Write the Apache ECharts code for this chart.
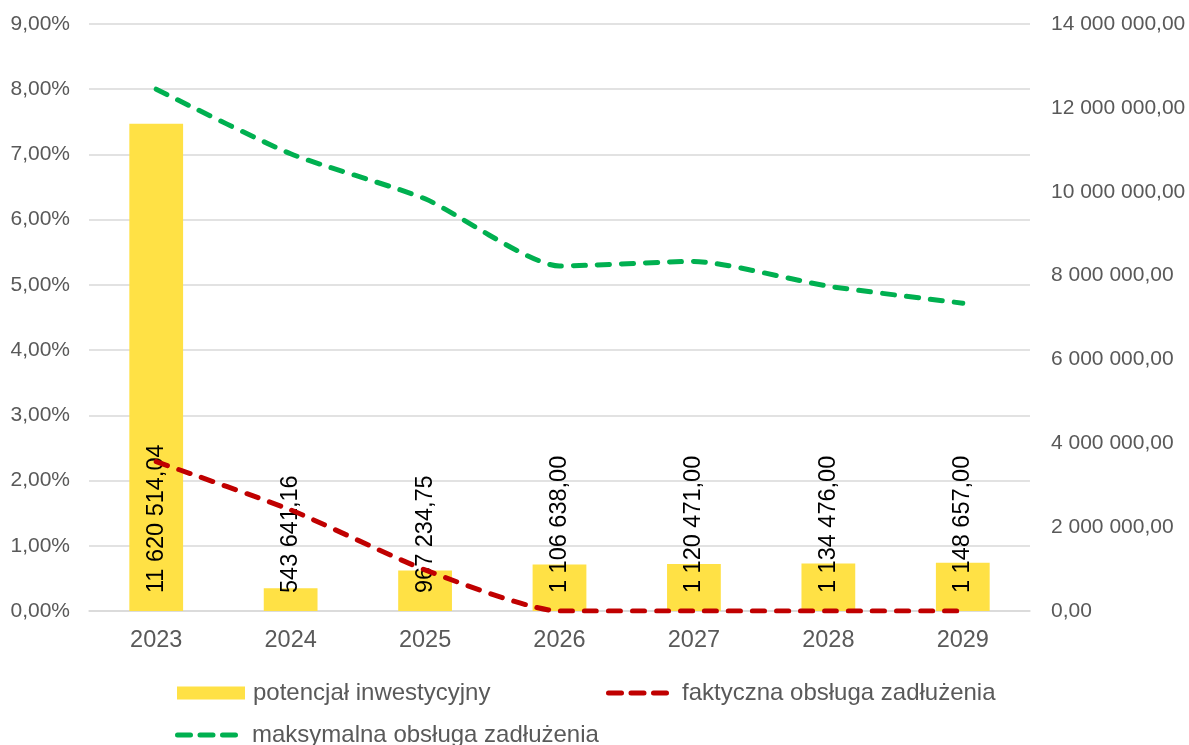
<!DOCTYPE html>
<html>
<head>
<meta charset="utf-8">
<script src="https://cdn.jsdelivr.net/npm/echarts@6/dist/echarts.min.js"></script>
<style>
html,body{margin:0;padding:0;background:#fff;}
#c{width:1189px;height:745px;}
</style>
</head>
<body>
<div id="c"></div>
<script>
const categories = ['2023','2024','2025','2026','2027','2028','2029'];
const potencjal = [11620514.04, 543641.16, 967234.75, 1106638.00, 1120471.00, 1134476.00, 1148657.00];
const faktyczna = [2.29, 1.55, 0.63, 0.0, 0.0, 0.0, 0.0];
const maksymalna = [8.0, 7.01, 6.32, 5.29, 5.36, 4.98, 4.72];
const names = ['potencjał inwestycyjny', 'faktyczna obsługa zadłużenia', 'maksymalna obsługa zadłużenia'];

function fmtMoney(v) {
  const parts = Number(v).toFixed(2).split('.');
  const intPart = parts[0].replace(/\B(?=(\d{3})+(?!\d))/g, ' ');
  return intPart + ',' + parts[1];
}
function fmtPct(v) {
  return Number(v).toFixed(2).replace('.', ',') + '%';
}

const FONT = '"Liberation Sans", Arial, sans-serif';
const GRAY = '#595959';
const DASH_ICON = 'path://M2.5,0h13a2.5,2.5 0 0 1 0,5h-13a2.5,2.5 0 0 1 0,-5z' +
  'M25,0h13a2.5,2.5 0 0 1 0,5h-13a2.5,2.5 0 0 1 0,-5z' +
  'M47.5,0h13a2.5,2.5 0 0 1 0,5h-13a2.5,2.5 0 0 1 0,-5z';

function lt(pad) {
  return {color: GRAY, fontSize: 24, fontFamily: FONT, padding: [0, 0, 0, pad]};
}

const chart = echarts.init(document.getElementById('c'), null, {renderer: 'canvas'});
chart.setOption({
  animation: false,
  backgroundColor: '#ffffff',
  textStyle: {fontFamily: FONT},
  grid: {left: 89, right: 159, top: 24, bottom: 134, containLabel: false},
  legend: [
    {data: [names[0]], left: 177, top: 681, padding: 0, itemWidth: 68, itemHeight: 13, textStyle: lt(3), icon: 'rect', selectedMode: false},
    {data: [names[1]], left: 606, top: 681, padding: 0, itemWidth: 65, itemHeight: 5, textStyle: lt(7), icon: DASH_ICON, selectedMode: false},
    {data: [names[2]], left: 175, top: 723, padding: 0, itemWidth: 65, itemHeight: 5, textStyle: lt(8), icon: DASH_ICON, selectedMode: false}
  ],
  xAxis: {
    type: 'category',
    data: categories,
    axisLine: {show: true, lineStyle: {color: '#D9D9D9', width: 1.5}},
    axisTick: {show: false},
    axisLabel: {color: GRAY, fontSize: 23.5, margin: 18, fontFamily: FONT}
  },
  yAxis: [
    {
      type: 'value', min: 0, max: 9, interval: 1,
      axisLine: {show: false}, axisTick: {show: false},
      splitLine: {lineStyle: {color: '#D9D9D9', width: 1.5}},
      axisLabel: {color: GRAY, fontSize: 21, margin: 19, fontFamily: FONT, formatter: fmtPct}
    },
    {
      type: 'value', min: 0, max: 14000000, interval: 2000000,
      axisLine: {show: false}, axisTick: {show: false},
      splitLine: {show: false},
      axisLabel: {color: GRAY, fontSize: 21, margin: 21, fontFamily: FONT, formatter: fmtMoney}
    }
  ],
  series: [
    {
      name: names[0], type: 'bar', yAxisIndex: 1, data: potencjal,
      barWidth: '40%',
      itemStyle: {color: '#FFE145'},
      label: {
        show: true, position: 'insideBottom', rotate: 90, align: 'left', verticalAlign: 'middle',
        distance: 18, color: '#000000', fontSize: 23.5, fontFamily: FONT,
        formatter: p => fmtMoney(p.value)
      },
      z: 2
    },
    {
      name: names[1], type: 'line', yAxisIndex: 0, data: faktyczna,
      symbol: 'none', smooth: 0.2,
      lineStyle: {color: '#C00000', width: 5, type: [12, 12], cap: 'round'},
      itemStyle: {color: '#C00000'},
      z: 4
    },
    {
      name: names[2], type: 'line', yAxisIndex: 0, data: maksymalna,
      symbol: 'none', smooth: 0.2,
      lineStyle: {color: '#00B050', width: 5, type: [12, 12], cap: 'round'},
      itemStyle: {color: '#00B050'},
      z: 4
    }
  ]
});
</script>
</body>
</html>
